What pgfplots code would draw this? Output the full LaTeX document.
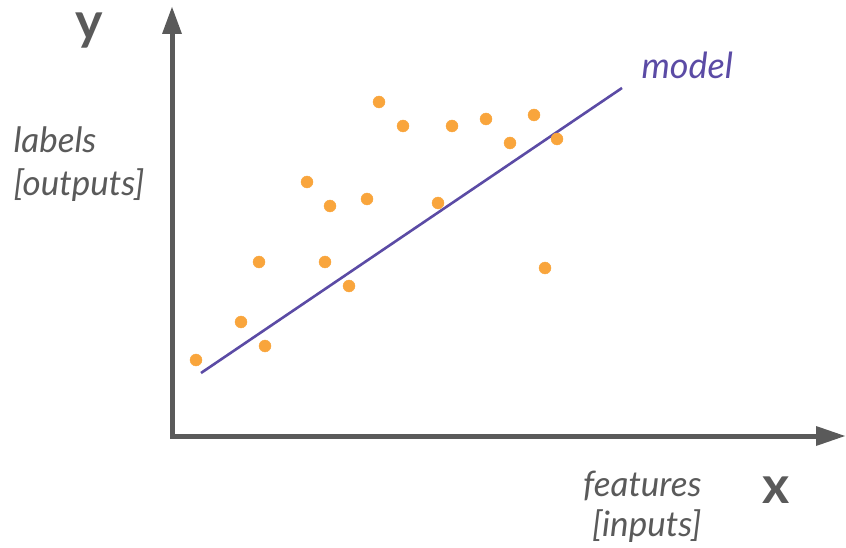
\documentclass[border=0pt]{standalone}
\usepackage{pgfplots}
\pgfplotsset{compat=1.18}
\usepackage{fontspec}
\setmainfont{Lato}
\definecolor{pts}{HTML}{F9A53C}
\definecolor{model}{HTML}{5B4BA5}
\definecolor{axgrey}{HTML}{5A5A5A}
\begin{document}
\begin{tikzpicture}
\begin{axis}[
  width=846pt, height=547pt, scale only axis,
  xmin=0, xmax=846, ymin=0, ymax=547,
  axis lines=none, clip=false,
]
\path (axis cs:0,0) rectangle (axis cs:846,547);
% axes
\draw[axgrey, line width=5pt] (axis cs:172,111) -- (axis cs:172,515);
\draw[axgrey, line width=5pt] (axis cs:170,111) -- (axis cs:818,111);
\fill[axgrey] (axis cs:162,513) -- (axis cs:182,513) -- (axis cs:172,540) -- cycle;
\fill[axgrey] (axis cs:816,101) -- (axis cs:816,121) -- (axis cs:845,111) -- cycle;
% model line
\addplot[model, line width=2.6pt, no marks] coordinates {(201,174) (622,459)};
% points
\addplot[only marks, mark=*, mark size=6pt, pts, mark options={draw=pts, fill=pts}] table {
x y
196 187
241 225
265 201
259 285
307 365
330 341
325 285
349 261
367 348
379 445
403 421
438 344
452 421
486 428
510 404
534 432
557 408
545 279
};
\node[font=\fontsize{35}{43}\selectfont\itshape, text=axgrey, align=left, anchor=west] at (axis cs:10,383) {labels\\{[}outputs]};
\node[font=\fontsize{35}{40}\selectfont\itshape, text=axgrey, align=right, anchor=east] at (axis cs:705,40) {features\\{[}inputs]};
\node[font=\fontsize{36}{42}\selectfont\itshape, text=model, anchor=base west] at (axis cs:638,468) {model};
\node[font=\fontsize{52}{60}\selectfont\bfseries, text=axgrey, anchor=base] at (axis cs:776,44) {x};
\node[font=\fontsize{52}{60}\selectfont\bfseries, text=axgrey, anchor=base] at (axis cs:89,507) {y};
\end{axis}
\end{tikzpicture}
\end{document}
